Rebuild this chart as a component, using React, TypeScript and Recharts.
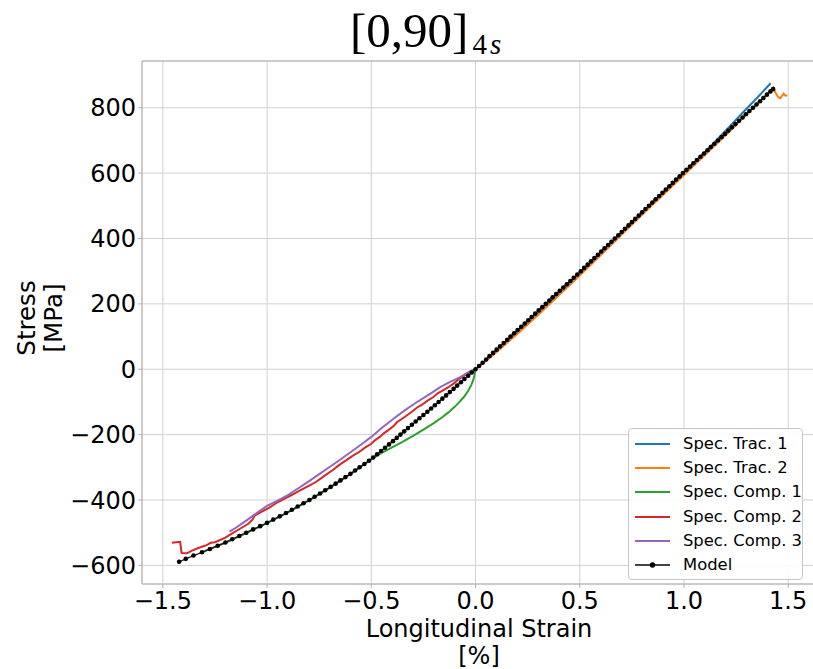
import { LineChart, Line, XAxis, YAxis, CartesianGrid, ReferenceLine } from 'recharts'

// strain [%], stress [MPa] pairs
const specTrac1 = [
  [0, 0], [0.1, 55], [0.2, 112], [0.3, 170], [0.4, 230], [0.5, 291], [0.6, 352], [0.7, 414],
  [0.8, 476], [0.9, 538], [1.0, 601], [1.1, 664], [1.2, 730], [1.27, 777], [1.35, 830], [1.416, 875],
]

const specTrac2 = [
  [0, 0], [0.05, 25], [0.1, 52], [0.2, 108], [0.3, 166], [0.4, 226], [0.5, 287], [0.6, 349],
  [0.7, 411], [0.8, 473], [0.9, 534], [1.0, 594], [1.1, 655], [1.2, 716], [1.3, 779], [1.38, 830],
  [1.428, 862], [1.44, 845], [1.452, 832], [1.463, 829], [1.472, 838], [1.478, 843], [1.486, 837], [1.496, 838],
]

const specComp1 = [
  [0, 0], [-0.005, -18], [-0.01, -31], [-0.02, -48], [-0.035, -66], [-0.056, -85], [-0.08, -102],
  [-0.1, -115], [-0.13, -132], [-0.16, -147], [-0.2, -165], [-0.25, -185], [-0.3, -204],
  [-0.35, -222], [-0.4, -239], [-0.45, -256], [-0.5, -276], [-0.55, -298], [-0.6, -321],
  [-0.7, -363], [-0.8, -402], [-0.9, -438], [-1.0, -471], [-1.1, -501], [-1.2, -531], [-1.3, -556],
]

const specComp2 = [
  [0, 0], [-0.02, -6], [-0.05, -18], [-0.08, -30], [-0.105, -44], [-0.13, -55], [-0.16, -66],
  [-0.18, -73], [-0.202, -85], [-0.23, -96], [-0.26, -110], [-0.28, -117], [-0.298, -126],
  [-0.32, -137], [-0.34, -146], [-0.363, -156], [-0.375, -161], [-0.39, -172], [-0.42, -187],
  [-0.44, -196], [-0.459, -207], [-0.48, -216], [-0.5, -228], [-0.53, -240], [-0.56, -254],
  [-0.59, -265], [-0.621, -279], [-0.65, -291], [-0.686, -309], [-0.72, -324], [-0.766, -345],
  [-0.8, -357], [-0.846, -372], [-0.88, -384], [-0.911, -394], [-0.95, -407], [-0.991, -424],
  [-1.03, -437], [-1.06, -448], [-1.07, -460], [-1.088, -472], [-1.13, -488], [-1.169, -503],
  [-1.2, -515], [-1.25, -529], [-1.27, -531], [-1.29, -538], [-1.33, -547], [-1.36, -555],
  [-1.385, -563], [-1.41, -562], [-1.417, -528], [-1.457, -531],
]

const specComp3 = [
  [0, 0], [-0.03, -7], [-0.073, -24], [-0.12, -38], [-0.169, -55], [-0.22, -76], [-0.282, -101],
  [-0.34, -126], [-0.395, -152], [-0.45, -180], [-0.5, -207], [-0.55, -231], [-0.6, -254],
  [-0.65, -277], [-0.7, -299], [-0.75, -321], [-0.8, -343], [-0.85, -364], [-0.9, -385],
  [-0.95, -402], [-1.0, -418], [-1.05, -440], [-1.1, -463], [-1.15, -485], [-1.18, -497],
]

const modelCurve = [
  [-1.422, -589], [-1.39, -580], [-1.353, -570], [-1.312, -560], [-1.274, -550], [-1.237, -540],
  [-1.2, -530], [-1.167, -520], [-1.133, -510], [-1.1, -500], [-1.067, -490], [-1.033, -480],
  [-1.0, -470], [-0.97, -460], [-0.939, -450], [-0.909, -440], [-0.881, -430], [-0.853, -420],
  [-0.825, -410], [-0.797, -400], [-0.772, -390], [-0.746, -380], [-0.721, -370], [-0.695, -360],
  [-0.671, -350], [-0.648, -340], [-0.624, -330], [-0.6, -320], [-0.578, -310], [-0.556, -300],
  [-0.533, -290], [-0.511, -280], [-0.491, -270], [-0.472, -260], [-0.453, -250], [-0.434, -240],
  [-0.415, -230], [-0.396, -220], [-0.378, -210], [-0.36, -200], [-0.342, -190], [-0.324, -180],
  [-0.305, -170], [-0.287, -160], [-0.269, -150], [-0.25, -140], [-0.231, -130], [-0.213, -120],
  [-0.195, -110], [-0.177, -100], [-0.159, -90], [-0.141, -80], [-0.123, -70], [-0.105, -60],
  [-0.088, -50], [-0.07, -40], [-0.053, -30], [-0.035, -20], [-0.018, -10], [0, 0],
  [0.017, 10], [0.034, 20], [0.051, 30], [0.067, 40], [0.084, 50], [0.101, 60], [0.118, 70],
  [0.135, 80], [0.152, 90], [0.168, 100], [0.185, 110], [0.202, 120], [0.219, 130], [0.236, 140],
  [0.253, 150], [0.269, 160], [0.286, 170], [0.303, 180], [0.32, 190], [0.337, 200], [0.354, 210],
  [0.37, 220], [0.387, 230], [0.404, 240], [0.421, 250], [0.438, 260], [0.455, 270], [0.471, 280],
  [0.488, 290], [0.505, 300], [0.521, 310], [0.538, 320], [0.554, 330], [0.57, 340], [0.587, 350],
  [0.603, 360], [0.619, 370], [0.636, 380], [0.652, 390], [0.668, 400], [0.685, 410], [0.701, 420],
  [0.717, 430], [0.734, 440], [0.75, 450], [0.766, 460], [0.783, 470], [0.799, 480], [0.815, 490],
  [0.832, 500], [0.848, 510], [0.864, 520], [0.881, 530], [0.897, 540], [0.913, 550], [0.93, 560],
  [0.946, 570], [0.962, 580], [0.979, 590], [0.995, 600], [1.012, 610], [1.029, 620], [1.045, 630],
  [1.062, 640], [1.079, 650], [1.096, 660], [1.113, 670], [1.129, 680], [1.146, 690], [1.163, 700],
  [1.18, 710], [1.197, 720], [1.213, 730], [1.23, 740], [1.247, 750], [1.264, 760], [1.281, 770],
  [1.297, 780], [1.314, 790], [1.331, 800], [1.348, 810], [1.365, 820], [1.381, 830], [1.398, 840],
  [1.415, 850], [1.428, 857],
]

const xTicks = [-1.5, -1.0, -0.5, 0.0, 0.5, 1.0, 1.5]
const yTicks = [-600, -400, -200, 0, 200, 400, 600, 800]

const toPoints = (pairs: number[][]) => pairs.map(([x, y]) => ({ x, y }))

const series = [
  { name: 'Spec. Trac. 1', color: '#1f77b4', data: specTrac1 },
  { name: 'Spec. Trac. 2', color: '#ff7f0e', data: specTrac2 },
  { name: 'Spec. Comp. 1', color: '#2ca02c', data: specComp1 },
  { name: 'Spec. Comp. 2', color: '#d62728', data: specComp2 },
  { name: 'Spec. Comp. 3', color: '#9467bd', data: specComp3 },
]

const SPINE = '#b0b0b0'
const GRID = '#d0d0d0'
const SANS = 'DejaVu Sans'

const minus = (s: string) => s.replace('-', '\u2212')

function LegendBox() {
  const items = [...series.map((s) => ({ name: s.name, color: s.color, dot: false })), { name: 'Model', color: '#444', dot: true }]
  return (
    <div
      style={{
        position: 'absolute',
        left: 628,
        top: 428,
        boxSizing: 'border-box',
        width: 175,
        height: 152,
        border: '1px solid #c8c8c8',
        borderRadius: 4,
        background: 'rgba(255,255,255,0.9)',
        paddingTop: 3,
        paddingLeft: 6,
        fontFamily: SANS,
        fontSize: 16.4,
        color: '#000',
      }}
    >
      {items.map((it) => (
        <div key={it.name} style={{ display: 'flex', alignItems: 'center', height: 24.2 }}>
          <svg width={35} height={10} style={{ display: 'block' }}>
            <line x1={0} y1={5} x2={35} y2={5} stroke={it.color} strokeWidth={2} />
            {it.dot && <circle cx={17.5} cy={5} r={2.7} fill="#000" />}
          </svg>
          <span style={{ marginLeft: 13, lineHeight: '20px', whiteSpace: 'nowrap' }}>{it.name}</span>
        </div>
      ))}
    </div>
  )
}

export default function App() {
  return (
    <div style={{ position: 'absolute', left: 0, top: 0, width: 813, height: 669, overflow: 'hidden', background: '#fff' }}>
      <LineChart width={820} height={669} margin={{ top: 61, right: 2, bottom: 0, left: 0 }}>
        <CartesianGrid stroke={GRID} strokeWidth={1} />
        <XAxis
          type="number"
          dataKey="x"
          domain={[-1.6, 1.643]}
          ticks={xTicks}
          allowDataOverflow
          height={85}
          tickFormatter={(v: number) => minus(v.toFixed(1))}
          tick={{ fontSize: 24, fill: '#000', fontFamily: SANS }}
          tickSize={4}
          tickMargin={4}
          axisLine={{ stroke: SPINE }}
          tickLine={{ stroke: SPINE }}
        />
        <YAxis
          type="number"
          dataKey="y"
          domain={[-657, 943]}
          ticks={yTicks}
          allowDataOverflow
          width={142}
          tickFormatter={(v: number) => minus(String(v))}
          tick={{ fontSize: 24, fill: '#000', fontFamily: SANS }}
          tickSize={4}
          tickMargin={2}
          axisLine={{ stroke: SPINE }}
          tickLine={{ stroke: SPINE }}
        />
        <ReferenceLine y={943} stroke={SPINE} strokeWidth={1} />
        {series.map((s) => (
          <Line
            key={s.name}
            name={s.name}
            data={toPoints(s.data)}
            dataKey="y"
            type="linear"
            stroke={s.color}
            strokeWidth={2}
            dot={false}
            activeDot={false}
            isAnimationActive={false}
          />
        ))}
        <Line
          name="Model"
          data={toPoints(modelCurve)}
          dataKey="y"
          type="linear"
          stroke="#222"
          strokeWidth={1.4}
          dot={{ r: 2.3, fill: '#000', stroke: '#000', strokeWidth: 0 }}
          activeDot={false}
          isAnimationActive={false}
        />
      </LineChart>

      <LegendBox />

      <svg width={813} height={669} style={{ position: 'absolute', left: 0, top: 0, pointerEvents: 'none' }}>
        <text x={350} y={47} fontFamily="Liberation Serif" fontSize={49} fill="#000">
          [0,90]
          <tspan fontSize={29} dx={4} dy={7}>4</tspan>
          <tspan fontSize={29} fontStyle="italic" dx={3}>s</tspan>
        </text>
        <text x={479} y={637} textAnchor="middle" fontFamily={SANS} fontSize={24} fill="#000">
          Longitudinal Strain
        </text>
        <text x={479} y={664} textAnchor="middle" fontFamily={SANS} fontSize={24} fill="#000">
          [%]
        </text>
        <text x={35} y={318} transform="rotate(-90 35 318)" textAnchor="middle" fontFamily={SANS} fontSize={24.5} fill="#000">
          Stress
        </text>
        <text x={62} y={318} transform="rotate(-90 62 318)" textAnchor="middle" fontFamily={SANS} fontSize={24.5} fill="#000">
          [MPa]
        </text>
      </svg>
    </div>
  )
}
